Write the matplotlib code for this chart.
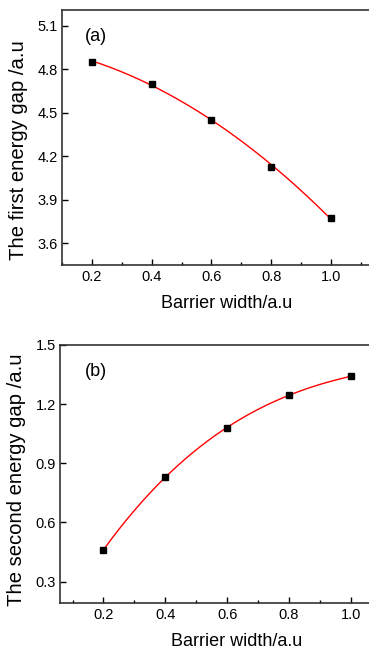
import numpy as np
from matplotlib import pyplot as plt

plt.rcParams['font.family'] = ['Liberation Sans', 'DejaVu Sans']

# barrier width (a.u)
width = [0.2, 0.4, 0.6, 0.8, 1.0]
# first and second energy gaps (a.u)
gap_first = [4.853, 4.700, 4.454, 4.128, 3.773]
gap_second = [0.461, 0.830, 1.081, 1.246, 1.341]

xticks = [0.2, 0.4, 0.6, 0.8, 1.0]
yticks_a = [3.6, 3.9, 4.2, 4.5, 4.8, 5.1]
yticks_b = [0.3, 0.6, 0.9, 1.2, 1.5]


def panel(ax, x, y, deg, yticks, ylim, xlim, ylabel, tag, lab_xy):
    x = np.array(x)
    y = np.array(y)
    coef = np.polyfit(x, y, deg)
    xs = np.linspace(x.min(), x.max(), 200)
    ax.plot(xs, np.polyval(coef, xs), color="red", lw=1.0)
    ax.plot(x, y, linestyle="None", marker="s", markersize=5, color="black")
    ax.set_xlim(*xlim)
    ax.set_ylim(*ylim)
    ax.set_xticks(xticks)
    ax.set_xticklabels([f"{t:.1f}" for t in xticks])
    ax.set_xticks([0.1, 0.3, 0.5, 0.7, 0.9, 1.1], minor=True)
    ax.set_yticks(yticks)
    ax.set_yticklabels([f"{t:.1f}" for t in yticks])
    ax.tick_params(which="both", direction="in", labelsize=10.5, width=1.0)
    ax.tick_params(which="major", length=4)
    ax.tick_params(which="minor", length=2)
    ax.tick_params(axis="y", pad=3)
    for s in ax.spines.values():
        s.set_linewidth(1.2)
        s.set_color("#333333")
    ax.set_xlabel("Barrier width/a.u", fontsize=13, labelpad=8)
    ax.set_ylabel(ylabel, fontsize=14.6)
    ax.yaxis.set_label_coords(*lab_xy)
    ax.text(0.07, 0.93, tag, transform=ax.transAxes, fontsize=13, va="top")


fig = plt.figure(figsize=(3.69, 6.52), dpi=100)

ax1 = fig.add_axes([0.168, 0.5936, 0.891, 0.3911])
panel(ax1, width, gap_first, 2, yticks_a, (3.45, 5.21), (0.1, 1.2),
      "The first energy gap /a.u", "(a)", (-0.103, 0.45))

ax2 = fig.add_axes([0.163, 0.0756, 0.9556, 0.3953])
panel(ax2, width, gap_second, 3, yticks_b, (0.193, 1.5), (0.06, 1.2),
      "The second energy gap /a.u", "(b)", (-0.097, 0.477))

fig.savefig("out.png", dpi=100)
